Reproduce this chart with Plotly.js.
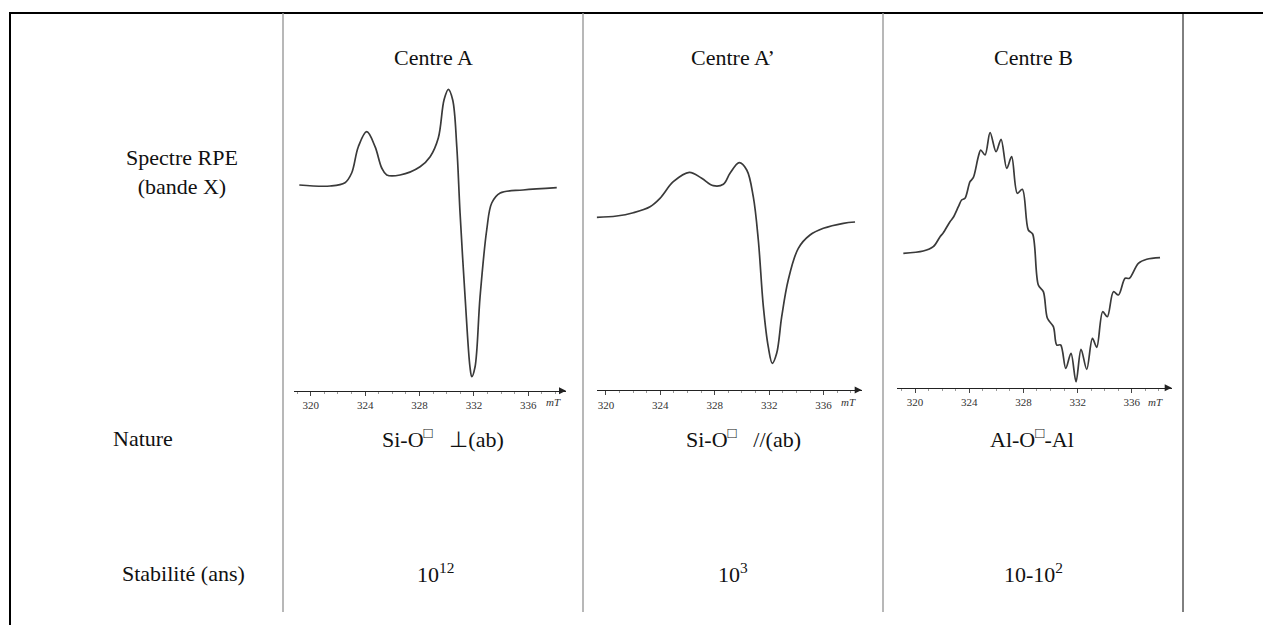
<!DOCTYPE html>
<html>
<head>
<meta charset="utf-8">
<script src="https://cdn.plot.ly/plotly-3.0.1.min.js"></script>
<style>html,body{margin:0;padding:0;background:#fff;}#chart{width:1263px;height:625px;}</style>
</head>
<body>
<div id="chart"></div>
<script>
// ---- Data (intensity in arbitrary units above the field axis) ----
const columnTitles = ["Centre A", "Centre A\u2019", "Centre B"];
const rowLabels = ["Spectre RPE<br>(bande X)", "Nature", "Stabilit\u00e9 (ans)"];
const natureLabels = ["Si-O<sup>\u25a1</sup>\u00a0\u00a0\u00a0\u22a5(ab)", "Si-O<sup>\u25a1</sup>\u00a0\u00a0\u00a0//(ab)", "Al-O<sup>\u25a1</sup>-Al"];
const stabilityLabels = ["10<sup>12</sup>", "10<sup>3</sup>", "10-10<sup>2</sup>"];
const tickVals = [320, 324, 328, 332, 336];
const tickText = ["320", "324", "328", "332", "336"];
const fieldUnit = "mT";

const fieldA = [319.16, 321.42, 322.52, 323.01, 323.50, 324.12, 324.73, 325.22, 325.59, 326.57, 328.04, 328.78, 329.38, 329.80, 330.12, 330.44, 330.74, 330.98, 331.35, 331.71, 331.84, 332.08, 332.45, 332.94, 333.31, 333.93, 335.61, 338.09];
const intensityA = [205.7, 204.7, 208.0, 217.7, 244.0, 259.0, 244.0, 222.7, 215.7, 215.7, 224.0, 234.0, 252.7, 290.7, 301.4, 290.7, 244.0, 177.7, 93.7, 23.7, 14.0, 23.7, 93.7, 160.7, 187.7, 197.7, 200.7, 203.0];

const fieldAp = [319.32, 320.79, 322.01, 323.24, 323.97, 324.95, 326.13, 327.04, 327.89, 328.63, 329.12, 329.80, 330.35, 330.83, 331.20, 331.57, 331.93, 332.23, 332.55, 332.92, 333.40, 334.14, 335.00, 335.98, 337.45, 338.31];
const intensityAp = [172.7, 174.0, 177.3, 183.3, 191.7, 208.3, 217.7, 211.7, 204.3, 205.7, 216.7, 227.3, 220.0, 193.3, 150.0, 83.3, 43.3, 26.7, 36.7, 73.3, 110.0, 141.7, 155.0, 161.7, 166.7, 168.0];

const fieldB = [319.14, 320.61, 321.35, 321.85, 322.09, 322.58, 322.83, 323.20, 323.44, 323.69, 324.06, 324.30, 324.67, 324.85, 325.17, 325.54, 325.98, 326.35, 326.77, 327.13, 327.55, 327.92, 328.36, 328.68, 329.10, 329.47, 329.77, 330.21, 330.46, 330.75, 331.12, 331.51, 331.88, 332.25, 332.67, 333.09, 333.41, 333.85, 334.19, 334.64, 335.01, 335.50, 335.82, 336.48, 337.10, 338.08];
const intensityB = [134.4, 136.7, 141.0, 151.0, 155.0, 166.0, 170.4, 181.0, 187.7, 189.4, 206.0, 210.0, 231.0, 237.7, 232.7, 255.0, 236.0, 248.4, 219.4, 231.0, 194.4, 198.4, 157.7, 153.7, 102.7, 96.0, 69.4, 61.0, 42.7, 42.7, 19.4, 34.4, 6.0, 38.4, 18.4, 49.4, 40.4, 76.0, 71.0, 96.0, 92.7, 109.4, 109.4, 124.4, 128.4, 130.0];

// ---- Layout helpers ----
const W = 1263, H = 625;
const px = x => x / W;
const py = y => 1 - y / H;
const serif = "'Liberation Serif', 'Times New Roman', serif";
const lineColor = "#3a3a3a";
const txtSize = 22;

const panels = [
  {x: fieldA, y: intensityA, left: 294, right: 566, axisY: 390.7, range: [318.77, 338.77], smooth: 1.0, cx: 433, mtX: 553},
  {x: fieldAp, y: intensityAp, left: 596.7, right: 861.7, axisY: 390, range: [319.32, 338.80], smooth: 1.0, cx: 733, mtX: 848},
  {x: fieldB, y: intensityB, left: 896.7, right: 1171.7, axisY: 387.7, range: [318.65, 338.94], smooth: 0.9, cx: 1033, mtX: 1155}
];
const topPx = 80;

const traces = [];
const layout = {
  width: W, height: H,
  margin: {l: 0, r: 0, t: 0, b: 0},
  paper_bgcolor: "#ffffff", plot_bgcolor: "rgba(0,0,0,0)",
  showlegend: false,
  font: {family: serif, color: "#111"},
  shapes: [], annotations: []
};

panels.forEach((p, i) => {
  const n = i === 0 ? "" : String(i + 1);
  traces.push({
    type: "scatter", mode: "lines", x: p.x, y: p.y,
    xaxis: "x" + n, yaxis: "y" + n,
    line: {color: lineColor, width: 1.7, shape: "spline", smoothing: p.smooth},
    hoverinfo: "skip"
  });
  layout["xaxis" + n] = {
    domain: [px(p.left), px(p.right)], range: p.range, anchor: "y" + n,
    showgrid: false, zeroline: false, showline: true, linecolor: "#222", linewidth: 1.4,
    tickvals: tickVals, ticktext: tickText, ticks: "outside", ticklen: 4, tickcolor: "#444", tickwidth: 1,
    minor: {dtick: 1, ticks: "outside", ticklen: 2, tickcolor: "#999"},
    tickfont: {family: serif, size: 11, color: "#333"}, fixedrange: true
  };
  layout["yaxis" + n] = {
    domain: [py(p.axisY), py(topPx)], range: [0, p.axisY - topPx], anchor: "x" + n,
    visible: false, showgrid: false, zeroline: false, fixedrange: true
  };
  layout.annotations.push({
    xref: "x" + n, yref: "y" + n, x: p.range[1], y: 0,
    axref: "x" + n, ayref: "y" + n, ax: p.range[1] - 0.6, ay: 0,
    showarrow: true, arrowhead: 2, arrowsize: 1, arrowwidth: 1.4, arrowcolor: "#222", text: ""
  });
  layout.annotations.push({
    xref: "paper", yref: "paper", x: px(p.mtX), y: py(402), text: "<i>" + fieldUnit + "</i>",
    showarrow: false, font: {family: serif, size: 11, color: "#333"}, xanchor: "center", yanchor: "middle"
  });
  layout.annotations.push({
    xref: "paper", yref: "paper", x: px(p.cx), y: py(58), text: columnTitles[i],
    showarrow: false, font: {family: serif, size: txtSize, color: "#111"}, xanchor: "center", yanchor: "middle"
  });
});

const natureX = [443, 743, 1032];
const stabX = [435, 733, 1033];
natureLabels.forEach((t, i) => layout.annotations.push({
  xref: "paper", yref: "paper", x: px(natureX[i]), y: py(438), text: t, showarrow: false,
  font: {family: serif, size: txtSize, color: "#111"}, xanchor: "center", yanchor: "middle"
}));
stabilityLabels.forEach((t, i) => layout.annotations.push({
  xref: "paper", yref: "paper", x: px(stabX[i]), y: py(573), text: t, showarrow: false,
  font: {family: serif, size: txtSize, color: "#111"}, xanchor: "center", yanchor: "middle"
}));

layout.annotations.push({xref: "paper", yref: "paper", x: px(182), y: py(172), text: rowLabels[0], showarrow: false,
  font: {family: serif, size: txtSize, color: "#111"}, xanchor: "center", yanchor: "middle", align: "center"});
layout.annotations.push({xref: "paper", yref: "paper", x: px(143), y: py(438), text: rowLabels[1], showarrow: false,
  font: {family: serif, size: txtSize, color: "#111"}, xanchor: "center", yanchor: "middle"});
layout.annotations.push({xref: "paper", yref: "paper", x: px(183), y: py(573), text: rowLabels[2], showarrow: false,
  font: {family: serif, size: txtSize, color: "#111"}, xanchor: "center", yanchor: "middle"});

const ln = (x0, y0, x1, y1, color, width) => ({type: "line", xref: "paper", yref: "paper",
  x0: px(x0), y0: py(y0), x1: px(x1), y1: py(y1), line: {color: color, width: width}});
layout.shapes.push(ln(10, 13, 1263, 13, "#000", 2));
layout.shapes.push(ln(10, 12, 10, 625, "#000", 2));
[283, 583, 883].forEach(x => layout.shapes.push(ln(x, 13, x, 612, "#9a9a9a", 1.4)));
layout.shapes.push(ln(1183, 13, 1183, 612, "#000", 1));

Plotly.newPlot("chart", traces, layout, {displayModeBar: false, staticPlot: true});
</script>
</body>
</html>
